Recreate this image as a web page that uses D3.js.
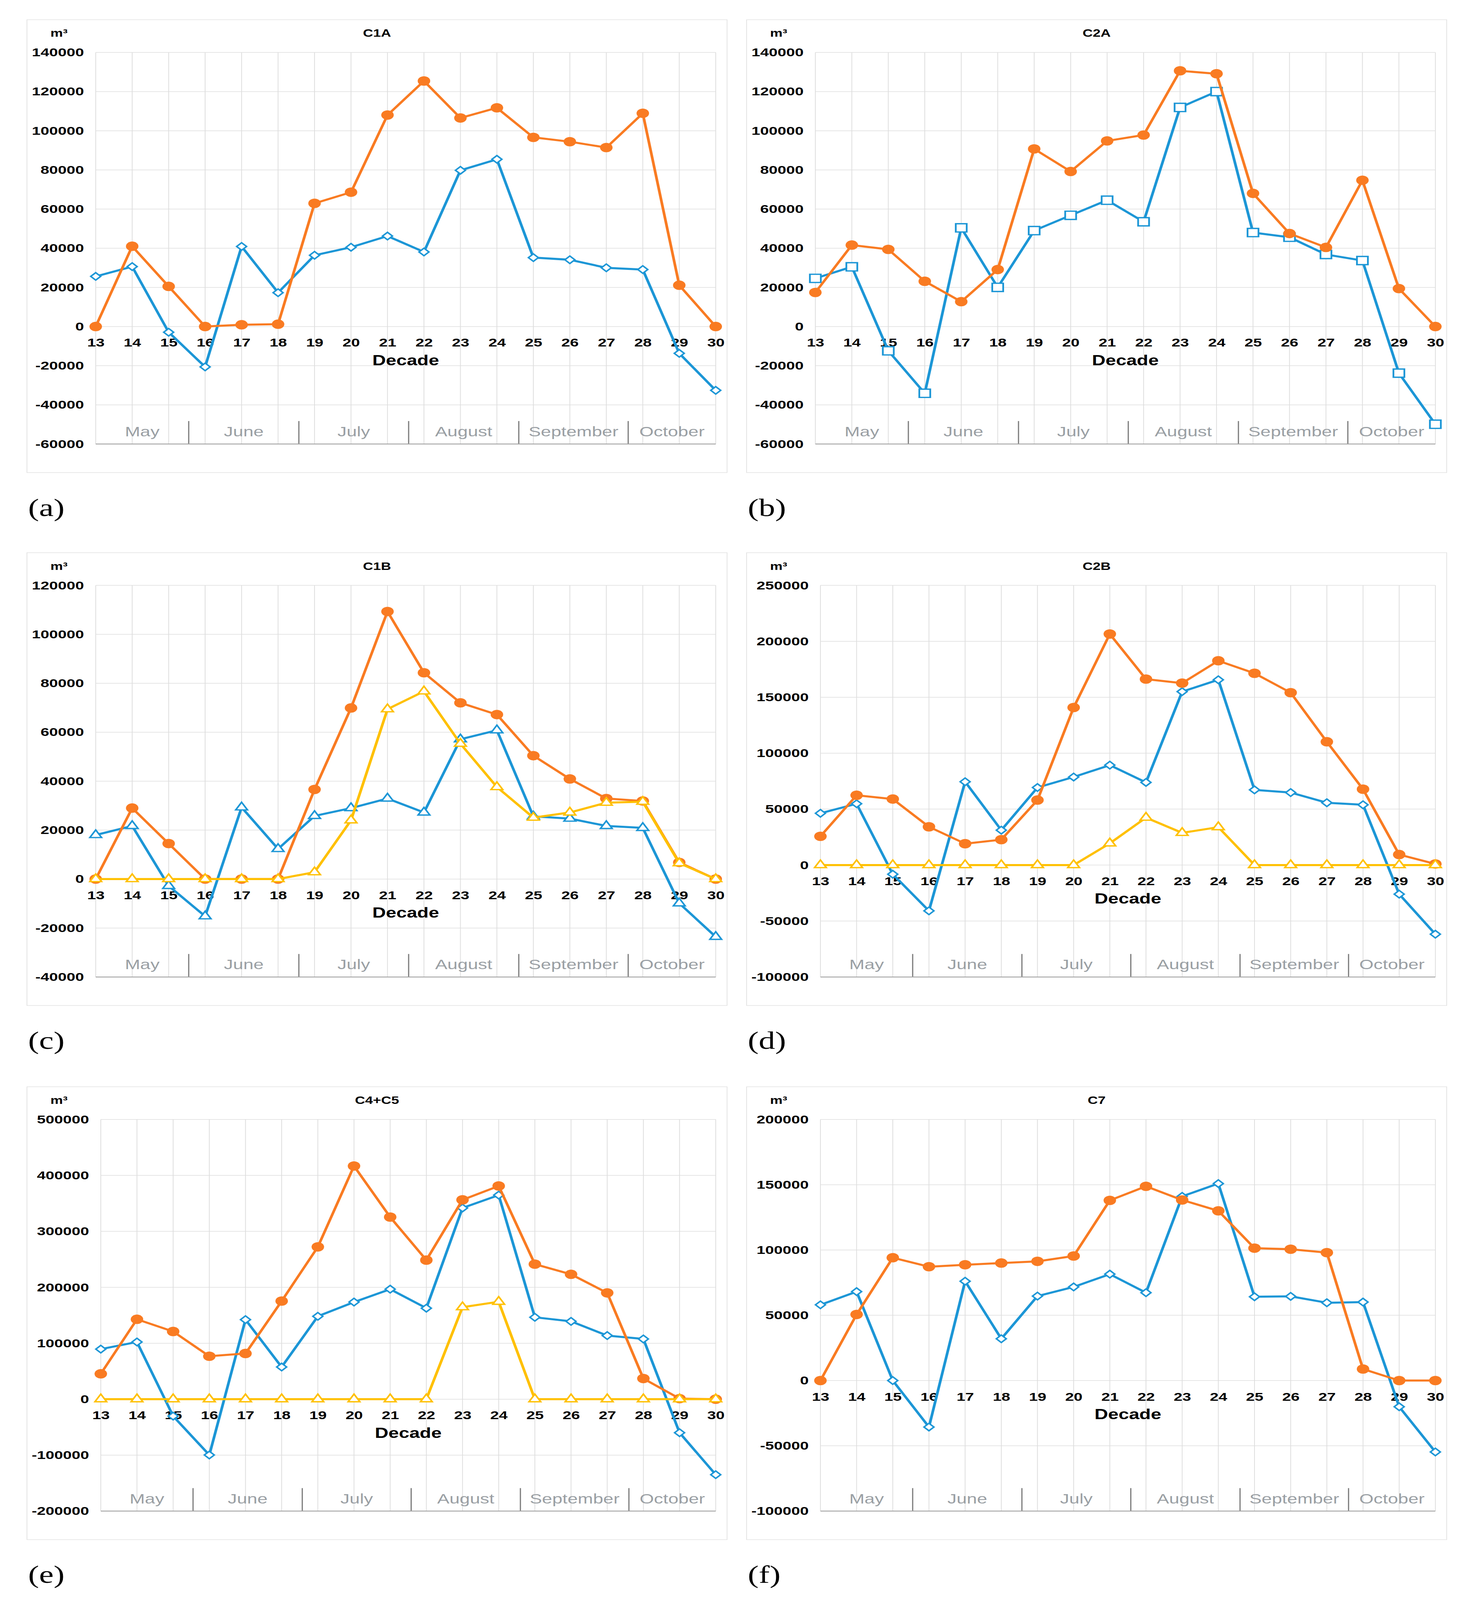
<!DOCTYPE html>
<html>
<head>
<meta charset="utf-8">
<script src="https://cdn.jsdelivr.net/npm/d3@7"></script>
<style>
  html, body { margin: 0; padding: 0; background: #fff; overflow: hidden; }
  svg { display: block; }
</style>
</head>
<body>
<svg id="chart"></svg>
<script>
// categories
const decades = [13, 14, 15, 16, 17, 18, 19, 20, 21, 22, 23, 24, 25, 26, 27, 28, 29, 30];
const months = ["May", "June", "July", "August", "September", "October"];
const monthBreaks = [13, 15.55, 18.57, 21.58, 24.6, 27.6, 30];

const panelNames = ["C1A", "C2A", "C1B", "C2B", "C4+C5", "C7"];
const panelLetters = ["(a)", "(b)", "(c)", "(d)", "(e)", "(f)"];
const yDomains = [[-60000, 140000], [-60000, 140000], [-40000, 120000], [-100000, 250000], [-200000, 500000], [-100000, 200000]];
const yTickSteps = [20000, 20000, 20000, 50000, 100000, 50000];
const blueShapes = ["diamond", "square", "triangle", "diamond", "diamond", "diamond"];

// series values (m3) per decade
const c1aOrange = [0, 41000, 20500, 0, 900, 1200, 62900, 68600, 108000, 125400, 106500, 111700, 96600, 94400, 91400, 108900, 21100, 0];
const c1aBlue = [25600, 30600, -2900, -20600, 40900, 17300, 36400, 40500, 46200, 38100, 79800, 85400, 35200, 34100, 30000, 29100, -13700, -32600];

const c2aOrange = [17400, 41600, 39400, 23100, 12700, 29100, 90700, 79200, 94800, 97800, 130600, 129100, 68000, 47500, 40400, 74700, 19400, 0];
const c2aBlue = [24600, 30500, -12400, -34100, 50400, 20000, 49000, 56800, 64500, 53500, 111900, 120000, 48000, 45600, 36800, 33700, -23800, -49900];

const c1bOrange = [0, 29000, 14500, 0, 0, 0, 36600, 69900, 109300, 84300, 72000, 67200, 50400, 40900, 32900, 31900, 6800, 0];
const c1bBlue = [18000, 21700, -2800, -15200, 29300, 12300, 25800, 29000, 32900, 27200, 57100, 60800, 25600, 24700, 21700, 20900, -9900, -23600];
const c1bYellow = [0, 0, 0, 0, 0, 0, 2800, 24000, 69400, 76700, 55300, 37600, 25100, 27200, 31200, 31600, 6500, 0];

const c2bOrange = [25700, 62400, 59000, 34200, 19100, 22700, 58100, 140800, 206500, 166200, 162600, 182600, 171400, 154100, 110200, 67800, 9400, 1000];
const c2bBlue = [46300, 54800, -8200, -40900, 74500, 31200, 69300, 78700, 89300, 73900, 155000, 165600, 67200, 64800, 55700, 53900, -26000, -61800];
const c2bYellow = [0, 0, 0, 0, 0, 0, 0, 0, 19400, 42400, 28800, 33900, 0, 0, 0, 0, 0, 0];

const c45Orange = [45400, 142800, 121000, 76800, 81700, 175400, 272200, 416800, 325500, 248600, 356300, 381100, 241400, 223200, 190000, 36900, 1000, 0];
const c45Blue = [89500, 102200, -30200, -99800, 142200, 57500, 148200, 173600, 196600, 162700, 341800, 364800, 146400, 139100, 113700, 107700, -59900, -134900];
const c45Yellow = [0, 0, 0, 0, 0, 0, 0, 0, 0, 0, 164500, 174200, 0, 0, 0, 0, 0, 0];

const c7Orange = [0, 50600, 94100, 87200, 88700, 90000, 91300, 95400, 138000, 148800, 138300, 130000, 101400, 100600, 98000, 8800, 0, 0];
const c7Blue = [58000, 68100, 0, -35600, 76100, 32000, 64700, 71700, 81500, 67300, 141100, 150900, 64200, 64500, 59600, 60100, -20100, -54700];

const panelSeries = [
  { blue: c1aBlue, orange: c1aOrange },
  { blue: c2aBlue, orange: c2aOrange },
  { blue: c1bBlue, orange: c1bOrange, yellow: c1bYellow },
  { blue: c2bBlue, orange: c2bOrange, yellow: c2bYellow },
  { blue: c45Blue, orange: c45Orange, yellow: c45Yellow },
  { blue: c7Blue, orange: c7Orange }
];

const W = 3778, H = 5434;
const colX = [69, 1911];
const rowY = [67, 1877, 3691];
const boxW = 1792, boxH = 1538;
const plotTop = 111, plotBottom = 1441;

const ORANGE = "#f97b22", BLUE = "#1c96d6", YELLOW = "#ffc000";
const GRID = "#dedede";
const FONT = "'Liberation Sans', Arial, sans-serif";

// draw in a 3778x5434 frame, stretched to whatever the window really shows
const svg = d3.select("#chart")
  .attr("width", window.innerWidth || W)
  .attr("height", window.innerHeight || H)
  .attr("viewBox", `0 0 ${W} ${H}`)
  .attr("preserveAspectRatio", "none");
svg.append("rect").attr("width", W).attr("height", H).attr("fill", "#fff");

const symbolPath = (shape) => {
  if (shape === "square") return d3.symbol(d3.symbolSquare, 784)();
  if (shape === "triangle") return d3.symbol(d3.symbolTriangle, 390)();
  return d3.symbol(d3.symbolSquare, 324)();
};

panelNames.forEach((name, i) => {
  const bx = colX[i % 2];
  const by = rowY[Math.floor(i / 2)];
  const [lo, hi] = yDomains[i];
  const step = yTickSteps[i];
  const ticks = d3.range(lo, hi + step / 2, step);
  const maxChars = d3.max(ticks, t => String(t).length);
  const marginLeft = 98 + 13 * maxChars;

  const x = d3.scaleLinear().domain([13, 30]).range([bx + marginLeft, bx + boxW - 29]);
  const y = d3.scaleLinear().domain([lo, hi]).range([by + plotBottom, by + plotTop]);
  const [x0, x1] = x.range();
  const yb = y(lo);

  const g = svg.append("g");

  // frame
  g.append("rect")
    .attr("x", bx).attr("y", by).attr("width", boxW).attr("height", boxH)
    .attr("fill", "#fff").attr("stroke", "#e3e3e3").attr("stroke-width", 2);

  // gridlines
  g.append("g").selectAll("line").data(ticks).join("line")
    .attr("x1", x0).attr("x2", x1)
    .attr("y1", d => y(d)).attr("y2", d => y(d))
    .attr("stroke", GRID).attr("stroke-width", 2);
  g.append("g").selectAll("line").data(decades).join("line")
    .attr("x1", d => x(d)).attr("x2", d => x(d))
    .attr("y1", y(hi)).attr("y2", yb)
    .attr("stroke", GRID).attr("stroke-width", 2);

  // y axis labels
  const yAxis = g.append("g")
    .attr("transform", `translate(${x0},0)`)
    .call(d3.axisLeft(y).tickValues(ticks).tickSize(0).tickPadding(30).tickFormat(d => String(d)));
  yAxis.select(".domain").remove();
  yAxis.selectAll("text")
    .attr("font-family", FONT).attr("font-size", 40).attr("font-weight", "bold").attr("fill", "#000");

  // decade labels on the zero line
  const xAxis = g.append("g")
    .attr("transform", `translate(0,${y(0)})`)
    .call(d3.axisBottom(x).tickValues(decades).tickSize(0).tickPadding(40).tickFormat(d => d));
  xAxis.select(".domain").remove();
  xAxis.selectAll("text")
    .attr("font-family", FONT).attr("font-size", 40).attr("font-weight", "bold").attr("fill", "#000");

  g.append("text")
    .attr("x", (x0 + x1) / 2).attr("y", y(0) + 131)
    .attr("text-anchor", "middle")
    .attr("font-family", FONT).attr("font-size", 48).attr("font-weight", "bold")
    .text("Decade");

  // month band
  g.append("g").selectAll("line").data(monthBreaks.slice(1, -1)).join("line")
    .attr("x1", d => x(d)).attr("x2", d => x(d))
    .attr("y1", yb - 78).attr("y2", yb)
    .attr("stroke", "#7a7a7a").attr("stroke-width", 3);
  g.append("g").selectAll("text").data(months).join("text")
    .attr("x", (d, k) => x((monthBreaks[k] + monthBreaks[k + 1]) / 2))
    .attr("y", yb - 26)
    .attr("text-anchor", "middle")
    .attr("font-family", FONT).attr("font-size", 47).attr("fill", "#9a9fa4")
    .text(d => d);
  g.append("line")
    .attr("x1", x0).attr("x2", x1).attr("y1", yb).attr("y2", yb)
    .attr("stroke", "#a3a3a3").attr("stroke-width", 3);

  // titles
  g.append("text")
    .attr("x", bx + 82).attr("y", by + 58)
    .attr("text-anchor", "middle")
    .attr("font-family", FONT).attr("font-size", 36).attr("font-weight", "bold")
    .text("m³");
  g.append("text")
    .attr("x", bx + boxW / 2).attr("y", by + 58)
    .attr("text-anchor", "middle")
    .attr("font-family", FONT).attr("font-size", 36).attr("font-weight", "bold")
    .text(name);
  svg.append("text")
    .attr("x", bx + 3).attr("y", by + 1685)
    .attr("font-family", "'Liberation Serif', 'Times New Roman', serif").attr("font-size", 84)
    .text(panelLetters[i]);

  // series
  const line = d3.line().x((d, k) => x(decades[k])).y(d => y(d));
  const s = panelSeries[i];

  const drawOpen = (values, colour, shape) => {
    g.append("path").datum(values)
      .attr("d", line).attr("fill", "none")
      .attr("stroke", colour).attr("stroke-width", 7).attr("stroke-linejoin", "round");
    g.append("g").selectAll("path").data(values).join("path")
      .attr("d", symbolPath(shape))
      .attr("transform", (d, k) => `translate(${x(decades[k])},${y(d)})` + (shape === "diamond" ? " rotate(45)" : ""))
      .attr("fill", "#fff").attr("stroke", colour).attr("stroke-width", 4.5);
  };

  drawOpen(s.blue, BLUE, blueShapes[i]);

  g.append("path").datum(s.orange)
    .attr("d", line).attr("fill", "none")
    .attr("stroke", ORANGE).attr("stroke-width", 7).attr("stroke-linejoin", "round");
  g.append("g").selectAll("circle").data(s.orange).join("circle")
    .attr("cx", (d, k) => x(decades[k])).attr("cy", d => y(d))
    .attr("r", 16).attr("fill", ORANGE);

  if (s.yellow) drawOpen(s.yellow, YELLOW, "triangle");
});
</script>
</body>
</html>
